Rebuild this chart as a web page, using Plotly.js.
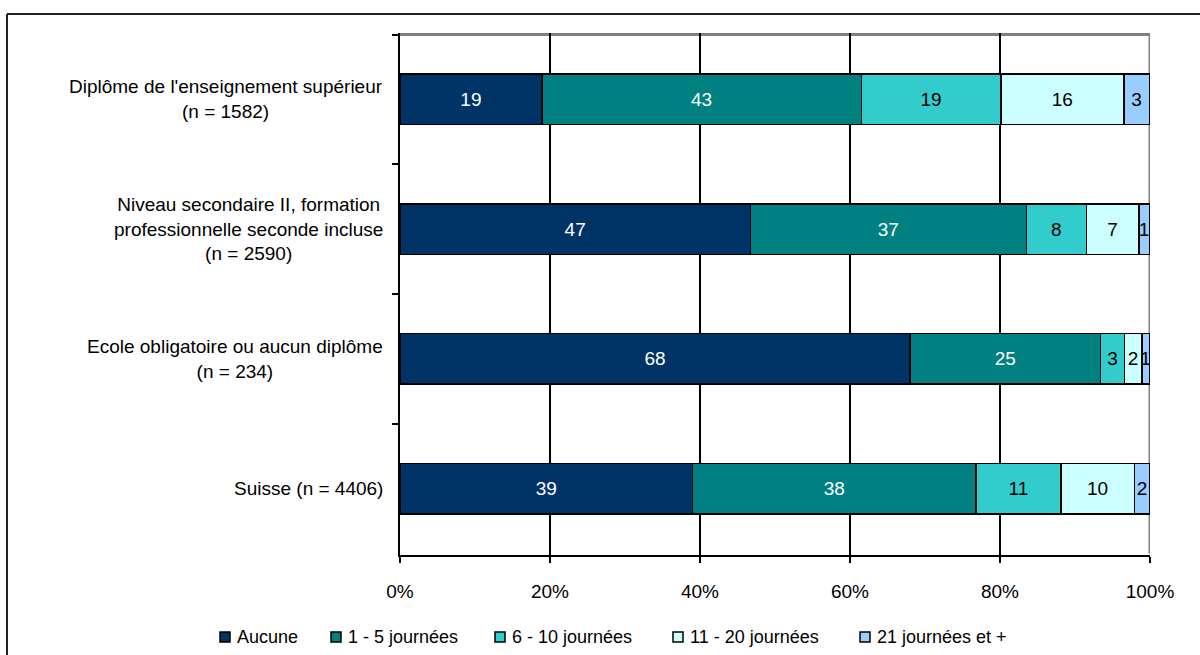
<!DOCTYPE html>
<html>
<head>
<meta charset="utf-8">
<script src="https://cdn.plot.ly/plotly-3.0.1.min.js"></script>
<style>
html,body{margin:0;padding:0;background:#fff;}
#chart{width:1200px;height:655px;}
</style>
</head>
<body>
<div id="chart"></div>
<script>
// Categories (top to bottom)
const categories = [
  "Diplôme de l'enseignement supérieur<br>(n = 1582)",
  "Niveau secondaire II, formation<br>professionnelle seconde incluse<br>(n = 2590)",
  "Ecole obligatoire ou aucun diplôme<br>(n = 234)",
  "Suisse (n = 4406)"
];
const seriesNames = ["Aucune", "1 - 5 journées", "6 - 10 journées", "11 - 20 journées", "21 journées et +"];
// Percentages per category (same order as categories)
const aucune   = [18.9, 46.7, 68.0, 39.0];
const j1_5     = [42.6, 36.8, 25.4, 37.8];
const j6_10    = [18.6,  8.0,  3.2, 11.3];
const j11_20   = [16.4,  7.0,  2.3,  9.8];
const j21plus  = [ 3.4,  1.4,  1.0,  2.1];
const xTicks = [0, 20, 40, 60, 80, 100];
const xTickLabels = ["0%", "20%", "40%", "60%", "80%", "100%"];

const seriesValues = [aucune, j1_5, j6_10, j11_20, j21plus];
const colors = ["#003366", "#008080", "#33CCCC", "#CCFFFF", "#99CCFF"];
const textColors = ["#ffffff", "#ffffff", "#000000", "#000000", "#000000"];
const FONT = "Liberation Sans, Arial, sans-serif";

// ---- layout geometry (style only) ----
const W = 1200, H = 655;
const M = {l: 400, r: 50, t: 33, b: 100};
const plotW = W - M.l - M.r, plotH = H - M.t - M.b;
const px2x = px => (px - M.l) / plotW;
const py2y = py => 1 - (py - M.t) / plotH;
const legendSymbolLeft = [220, 331, 495, 673, 860];
const legendY = 637;

const traces = seriesValues.map((vals, i) => ({
  type: "bar",
  orientation: "h",
  name: seriesNames[i],
  y: categories,
  x: vals,
  marker: {color: colors[i], line: {color: "#000000", width: 1.5}},
  texttemplate: "%{x:.0f}",
  textposition: "inside",
  insidetextanchor: "middle",
  textangle: 0,
  constraintext: "none",
  insidetextfont: {family: FONT, size: 19, color: textColors[i]},
  showlegend: false,
  hoverinfo: "skip"
}));

const annotations = categories.map(c => ({
  xref: "paper", yref: "y", x: 0, y: c, xanchor: "right", yanchor: "middle",
  xshift: -15, text: c, showarrow: false, align: "center",
  font: {family: FONT, size: 19, color: "#000"}
}));

const shapes = [
  // plot area top/right border (gray), between grid and bars
  {type: "line", xref: "x", yref: "y", x0: 0, x1: 100, y0: -0.5, y1: -0.5,
   line: {color: "#808080", width: 3}, layer: "below"},
  {type: "line", xref: "x", yref: "y", x0: 100, x1: 100, y0: -0.5, y1: 3.5,
   line: {color: "#808080", width: 3}, layer: "below"},
  // outer chart frame (left and top)
  {type: "line", xref: "paper", yref: "paper", x0: px2x(7), x1: px2x(7), y0: py2y(H + 5), y1: py2y(14),
   line: {color: "#222222", width: 2}},
  {type: "line", xref: "paper", yref: "paper", x0: px2x(7), x1: px2x(W + 5), y0: py2y(14), y1: py2y(14),
   line: {color: "#222222", width: 2}}
];

// Manual legend (symbols + labels), built from seriesNames / colors
seriesNames.forEach((name, i) => {
  const left = legendSymbolLeft[i];
  shapes.push({
    type: "rect", xref: "paper", yref: "paper",
    x0: px2x(left), x1: px2x(left + 10), y0: py2y(legendY + 5), y1: py2y(legendY - 5),
    fillcolor: colors[i], line: {color: "#000000", width: 1.5}
  });
  annotations.push({
    xref: "paper", yref: "paper", x: px2x(left + 15), y: py2y(legendY),
    xanchor: "left", yanchor: "middle", text: name, showarrow: false,
    font: {family: FONT, size: 18, color: "#000"}
  });
});

const layout = {
  width: W, height: H,
  margin: {l: M.l, r: M.r, t: M.t, b: M.b, autoexpand: false},
  paper_bgcolor: "#ffffff", plot_bgcolor: "#ffffff",
  barmode: "stack",
  bargap: 0.61,
  showlegend: false,
  xaxis: {
    range: [0, 100], tickvals: xTicks, ticktext: xTickLabels,
    showgrid: true, gridcolor: "#000000", gridwidth: 1.5,
    showline: true, linecolor: "#000000", linewidth: 2,
    ticks: "outside", ticklen: 6, tickwidth: 2, tickcolor: "#000",
    ticklabelstandoff: 12,
    tickfont: {family: FONT, size: 19, color: "#000"},
    zeroline: false, fixedrange: true
  },
  yaxis: {
    type: "category", categoryorder: "array", categoryarray: categories,
    autorange: "reversed",
    showticklabels: false,
    showline: true, linecolor: "#000000", linewidth: 2,
    ticks: "outside", tickson: "boundaries", ticklen: 6, tickwidth: 2, tickcolor: "#000",
    showgrid: false, zeroline: false, fixedrange: true
  },
  annotations: annotations,
  shapes: shapes
};

Plotly.newPlot("chart", traces, layout, {displayModeBar: false, staticPlot: true});
</script>
</body>
</html>
